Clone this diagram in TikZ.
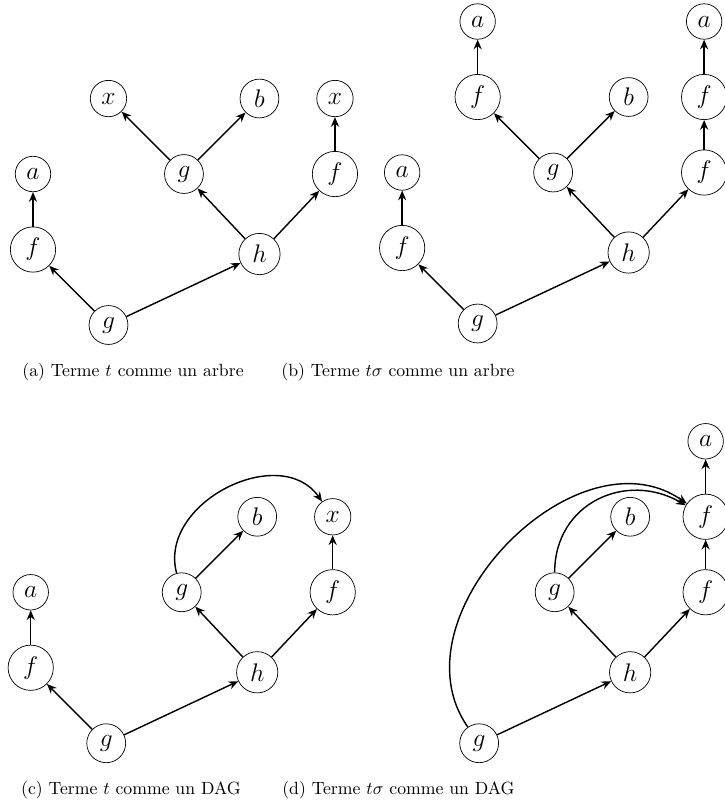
\documentclass[tikz,border=0pt]{standalone}
\usepackage{amsmath}
\usepackage{tikz}
\usetikzlibrary{arrows.meta}

\begin{document}

\begin{tikzpicture}[x = 1.5cm, y = 1.5cm, >={Stealth[length=5.5pt, width=4.6pt, inset=1.8pt]}, term/.style = {circle, draw, inner sep=3.7pt, font=\Large}, branch/.style = {->, thick}]

\useasboundingbox (-0.437, -6.358) rectangle (9.166, 4.305);

\begin{scope}
\node (Ag) at (1, 0) [term] {$g$};
\node (Af) at (0, 1) [term] {$f$};
\node (Aa) at (0, 2) [term] {$a$};
\node (Ah) at (3, 0.94) [term] {$h$};
\node (Ag2) at (2, 2) [term] {$g$};
\node (Ax) at (1, 3) [term] {$x$};
\node (Ab) at (3, 3) [term] {$b$};
\node (Af2) at (4, 2) [term] {$f$};
\node (Ax2) at (4, 3) [term] {$x$};

\draw [branch] (Ag) -- (Af);
\draw [branch] (Af) -- (Aa);
\draw [branch] (Ag) -- (Ah);
\draw [branch] (Ah) -- (Ag2);
\draw [branch] (Ah) -- (Af2);
\draw [branch] (Ag2) -- (Ax);
\draw [branch] (Ag2) -- (Ab);
\draw [branch] (Af2) -- (Ax2);
\end{scope}

\begin{scope}[shift = {(4.89, 0.02)}]
\node (Bg) at (1, 0) [term] {$g$};
\node (Bf) at (0, 1) [term] {$f$};
\node (Ba) at (0, 2) [term] {$a$};
\node (Bh) at (3, 0.94) [term] {$h$};
\node (Bg2) at (2, 2) [term] {$g$};
\node (Bf2) at (1, 3) [term] {$f$};
\node (Ba2) at (1, 4) [term] {$a$};
\node (Bb) at (3, 3) [term] {$b$};
\node (Bf3) at (4, 2) [term] {$f$};
\node (Bf4) at (4, 3) [term] {$f$};
\node (Ba3) at (4, 4) [term] {$a$};

\draw [branch] (Bg) -- (Bf);
\draw [branch] (Bf) -- (Ba);
\draw [branch] (Bg) -- (Bh);
\draw [branch] (Bh) -- (Bg2);
\draw [branch] (Bh) -- (Bf3);
\draw [branch] (Bg2) -- (Bf2);
\draw [branch] (Bf2) -- (Ba2);
\draw [branch] (Bg2) -- (Bb);
\draw [branch] (Bf3) -- (Bf4);
\draw [branch] (Bf4) -- (Ba3);
\end{scope}

\begin{scope}[shift = {(-0.03, -5.54)}]
\node (Cg) at (1, 0) [term] {$g$};
\node (Cf) at (0, 1) [term] {$f$};
\node (Ca) at (0, 2) [term] {$a$};
\node (Ch) at (3, 0.94) [term] {$h$};
\node (Cg2) at (2, 2) [term] {$g$};
\node (Cb) at (3, 3) [term] {$b$};
\node (Cf2) at (4, 2) [term] {$f$};
\node (Cx) at (4, 3) [term] {$x$};

\draw [branch] (Cg) -- (Cf);
\draw [branch] (Cf) -- (Ca);
\draw [branch] (Cg) -- (Ch);
\draw [branch] (Ch) -- (Cg2);
\draw [branch] (Ch) -- (Cf2);
\draw [branch] (Cg2) -- (Cb);
\draw [branch] (Cf2) -- (Cx);
\draw [branch] (Cg2) to [out=105, in=125, looseness=1.15] (Cx);
\end{scope}

\begin{scope}[shift = {(4.91, -5.54)}]
\node (Dg) at (1, 0) [term] {$g$};
\node (Dh) at (3, 0.94) [term] {$h$};
\node (Dg2) at (2, 2) [term] {$g$};
\node (Db) at (3, 3) [term] {$b$};
\node (Df) at (4, 2) [term] {$f$};
\node (Df2) at (4, 3) [term] {$f$};
\node (Da) at (4, 4) [term] {$a$};

\draw [branch] (Dg) -- (Dh);
\draw [branch] (Dh) -- (Dg2);
\draw [branch] (Dh) -- (Df);
\draw [branch] (Dg2) -- (Db);
\draw [branch] (Df) -- (Df2);
\draw [branch] (Df2) -- (Da);
\draw [branch] (Dg2) to [out=90, in=150, looseness=1.2] (Df2);
\draw [branch] (Dg) to [out=125, in=145, looseness=1.1] (Df2);
\end{scope}

\node (capa) at (1.325, -0.623) {(a) Terme $t$ comme un arbre};
\node (capb) at (4.834, -0.623) {(b) Terme $t\sigma$ comme un arbre};
\node (capc) at (1.298, -6.159) {(c) Terme $t$ comme un DAG};
\node (capd) at (4.841, -6.159) {(d) Terme $t\sigma$ comme un DAG};

\end{tikzpicture}

\end{document}
